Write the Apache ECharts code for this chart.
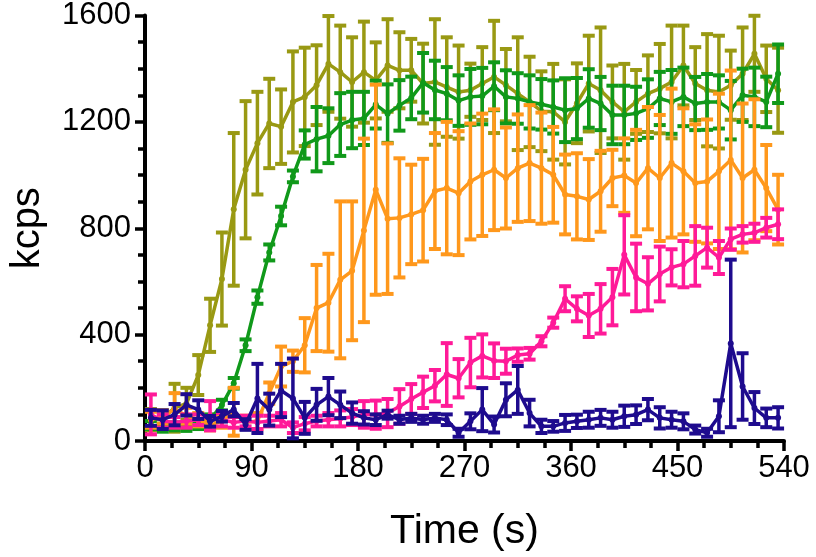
<!DOCTYPE html>
<html><head><meta charset="utf-8">
<script src="https://cdn.jsdelivr.net/npm/echarts@6/dist/echarts.min.js"></script>
<style>html,body{margin:0;padding:0;background:#fff}#c{width:816px;height:557px}</style>
</head><body><div id="c"></div>
<script>
const times = [5,15,25,35,45,55,65,75,85,95,105,115,125,135,145,155,165,175,185,195,205,215,225,235,245,255,265,275,285,295,305,315,325,335,345,355,365,375,385,395,405,415,425,435,445,455,465,475,485,495,505,515,525,535];
const xTicks = [0,90,180,270,360,450,540];
const yTicks = [0,400,800,1200,1600];

const oliveMean = [80,85,125,140,248,435,609,871,1020,1120,1194,1182,1275,1294,1338,1418,1387,1350,1387,1356,1412,1394,1394,1344,1350,1331,1312,1319,1344,1369,1338,1306,1275,1240,1238,1200,1270,1344,1319,1275,1238,1275,1306,1325,1350,1412,1344,1319,1312,1338,1381,1456,1362,1319];
const oliveErr  = [40,30,90,60,75,100,175,287,258,193,168,140,190,185,150,180,175,168,190,143,174,143,118,150,236,187,175,100,137,211,136,212,170,150,180,160,150,180,236,137,180,120,144,168,212,150,137,211,212,130,174,143,125,160];

const greenMean = [60,50,55,50,60,80,135,217,360,541,709,846,995,1115,1135,1148,1190,1207,1213,1265,1231,1262,1290,1347,1320,1306,1280,1294,1297,1334,1294,1288,1275,1266,1256,1244,1250,1288,1269,1226,1226,1232,1250,1288,1275,1294,1269,1275,1275,1244,1300,1294,1275,1381];
const greenErr  = [15,15,15,12,15,20,20,20,22,25,30,35,22,53,121,103,118,106,100,90,110,95,80,112,110,100,95,105,106,90,100,95,100,95,100,120,115,110,100,110,110,100,110,100,120,110,100,105,100,110,100,110,95,110];

const orangeMean = [80,90,120,95,80,60,75,110,70,75,180,280,300,360,500,520,606,640,792,945,836,839,852,868,940,951,932,976,1001,1020,989,1026,1045,1026,1001,927,920,908,939,989,998,970,1026,989,1045,1014,970,976,1014,1057,989,1020,951,870];
const orangeErr  = [30,25,60,30,25,20,25,90,25,30,40,75,40,102,162,184,295,261,345,395,283,224,187,193,218,249,233,218,230,227,190,202,218,209,180,150,162,152,152,106,140,200,230,237,280,237,221,233,292,336,280,265,162,131];

const pinkMean = [100,75,70,75,80,95,80,70,75,70,75,80,50,65,75,80,85,90,100,99,105,130,158,183,208,250,236,295,320,302,300,323,328,375,445,535,497,472,497,541,700,615,591,628,653,665,696,727,690,759,777,783,802,815];
const pinkErr  = [75,25,20,25,20,55,25,20,20,25,20,25,20,25,20,25,30,30,50,53,53,65,56,59,59,118,72,93,81,65,47,25,22,19,19,47,47,81,93,106,149,127,100,103,68,87,112,75,62,40,31,34,37,56];

const navyMean = [87,80,99,136,118,74,93,118,62,160,118,190,160,87,136,167,136,105,87,80,99,80,87,80,87,80,31,74,118,62,155,192,105,55,55,68,74,80,87,80,93,99,118,87,80,74,43,31,93,367,205,124,87,87];
const navyErr  = [30,35,40,40,35,20,20,25,20,130,60,100,150,60,60,70,50,40,25,20,15,15,15,15,15,20,15,30,81,30,62,90,50,25,20,30,25,30,30,30,40,35,40,40,30,30,15,15,60,315,125,60,35,40];

const seriesDefs = [
  {name:'olive', color:'#999913', mean:oliveMean, err:oliveErr},
  {name:'green', color:'#10991a', mean:greenMean, err:greenErr},
  {name:'orange', color:'#ff981c', mean:orangeMean, err:orangeErr},
  {name:'pink', color:'#ff1a98', mean:pinkMean, err:pinkErr},
  {name:'navy', color:'#1e0b8e', mean:navyMean, err:navyErr}
];

const series = [];
seriesDefs.forEach((d, k) => {
  const color = d.color;
  series.push({
    type:'custom', name:d.name+' err', z: 2+k*2,
    data: times.map((t,i)=>[t, d.mean[i]-d.err[i], d.mean[i]+d.err[i]]),
    encode:{x:0, y:[1,2]},
    renderItem:(params, api)=>{
      const x = api.value(0);
      const lo = api.coord([x, api.value(1)]);
      const hi = api.coord([x, api.value(2)]);
      const hw = 6;
      const st = {stroke: color, lineWidth: 3.5};
      const cs = {stroke: color, lineWidth: 4};
      return {type:'group', children:[
        {type:'line', shape:{x1:lo[0],y1:lo[1],x2:hi[0],y2:hi[1]}, style:st},
        {type:'line', shape:{x1:hi[0]-hw,y1:hi[1],x2:hi[0]+hw,y2:hi[1]}, style:cs},
        {type:'line', shape:{x1:lo[0]-hw,y1:lo[1],x2:lo[0]+hw,y2:lo[1]}, style:cs}
      ]};
    }
  });
  series.push({
    type:'line', name:d.name, z: 3+k*2,
    data: times.map((t,i)=>[t, d.mean[i]]),
    symbol:'circle', symbolSize:6, showSymbol:true,
    lineStyle:{color:color, width:3.5},
    itemStyle:{color:color},
    animation:false
  });
});

const font = 'Liberation Sans';
const chart = echarts.init(document.getElementById('c'), null, {renderer:'canvas'});
chart.setOption({
  animation:false,
  backgroundColor:'#ffffff',
  grid:{left:143, right:32, top:13, bottom:115.5, containLabel:false},
  xAxis:{
    type:'value', min:xTicks[0], max:xTicks[xTicks.length-1], interval:90,
    name:'Time (s)', nameLocation:'middle', nameGap:70,
    nameTextStyle:{fontFamily:font, fontSize:41, color:'#000'},
    axisLine:{show:true, onZero:false, lineStyle:{color:'#000', width:4}},
    axisTick:{show:true, length:10, lineStyle:{color:'#000', width:3.5}},
    minorTick:{show:true, splitNumber:4, length:7, lineStyle:{color:'#000', width:3.5}},
    splitLine:{show:false},
    axisLabel:{fontFamily:font, fontSize:31, color:'#000', margin:12, formatter:v=>String(v)}
  },
  yAxis:{
    type:'value', min:yTicks[0], max:yTicks[yTicks.length-1], interval:400,
    name:'kcps', nameLocation:'middle', nameGap:97,
    nameTextStyle:{fontFamily:font, fontSize:40, color:'#000'},
    axisLine:{show:true, onZero:false, lineStyle:{color:'#000', width:4}},
    axisTick:{show:true, length:10, lineStyle:{color:'#000', width:3.5}},
    minorTick:{show:true, splitNumber:4, length:7, lineStyle:{color:'#000', width:3.5}},
    splitLine:{show:false},
    axisLabel:{fontFamily:font, fontSize:31, color:'#000', margin:14, formatter:v=>String(v)}
  },
  series:series
});
</script>
</body></html>
